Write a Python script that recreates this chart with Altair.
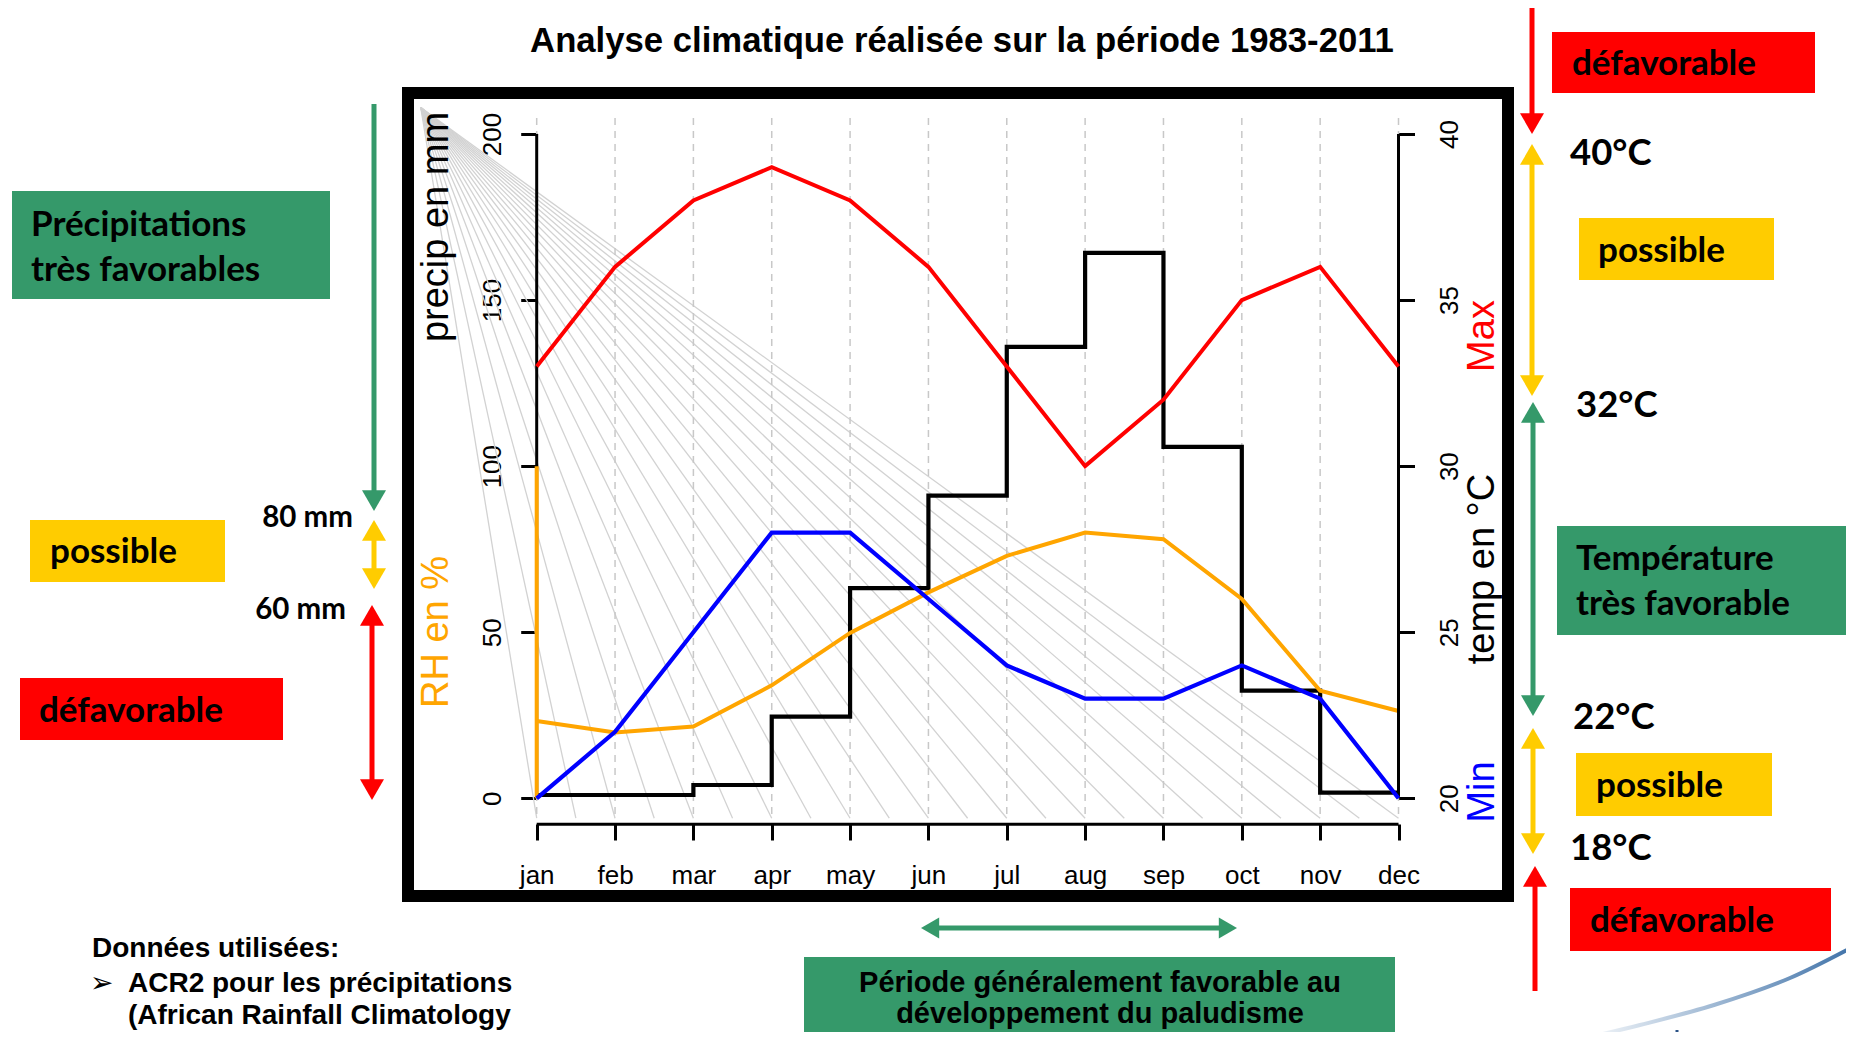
import altair as alt
import pandas as pd

# ------------------------------------------------------------------ data
months = ["jan", "feb", "mar", "apr", "may", "jun", "jul", "aug", "sep", "oct", "nov", "dec"]
precip_mm = [1.0, 1.0, 4.0, 24.6, 63.3, 91.1, 135.9, 164.2, 105.8, 32.4, 1.7, 1.7]
rh_pct = [23.3, 19.8, 21.6, 34.0, 49.8, 62.0, 73.0, 80.0, 78.0, 60.0, 32.4, 26.3]
tmax_c = [33, 36, 38, 39, 38, 36, 33, 30, 32, 35, 36, 33]
tmin_c = [20, 22, 25, 28, 28, 26, 24, 23, 23, 24, 23, 20]
precip_ticks = [0, 50, 100, 150, 200]
temp_ticks = [20, 25, 30, 35, 40]
rh_jan_span = [0, 100]
fan_origin = [-1.48, 208.0]
fan_ends = [0.0, 0.5, 1.0, 1.5, 2.0, 2.5, 3.0, 3.5, 4.0, 4.5, 5.0, 5.5,
            6.0, 6.5, 7.0, 7.5, 8.0, 8.5, 9.0, 9.5, 10.0, 10.5, 11.0]
fan_bottom = -6.0
grid_top = 204.8
grid_bottom = -6.0
month_axis_level = -7.8

# ------------------------------------------------------------------ layout
W, H = 1838, 1024
M = 8
JAN_PX = 536.7 - M
DEC_PX = 1398.5 - M
STEP = (DEC_PX - JAN_PX) / 11
Y0_PX = 798.3 - M
K = (798.3 - 134.0) / 200.0

x_dom = [-JAN_PX / STEP, (W - JAN_PX) / STEP]
y_dom = [-(H - Y0_PX) / K, Y0_PX / K]
t_dom = [20 + y_dom[0] / 10.0, 20 + y_dom[1] / 10.0]

xscale = alt.Scale(domain=x_dom, nice=False, zero=False)
yscale = alt.Scale(domain=y_dom, nice=False, zero=False)
tscale = alt.Scale(domain=t_dom, nice=False, zero=False)

label_expr = "[" + ",".join("'%s'" % m for m in months) + "][datum.value]"

xaxis = alt.Axis(values=list(range(12)), labelExpr=label_expr, orient="bottom",
                 offset=-(H - (824 - M)), domain=False, grid=False,
                 tickSize=16, tickWidth=3, tickColor="black",
                 labelFont="Liberation Sans", labelFontSize=26, labelColor="black",
                 labelPadding=22, labelBaseline="top", labelAlign="center",
                 labelFlush=False, labelOverlap=False, title=None)
yaxis = alt.Axis(values=precip_ticks, orient="left", offset=-JAN_PX, domain=False, grid=False,
                 tickSize=16, tickWidth=3, tickColor="black",
                 labelFont="Liberation Sans", labelFontSize=26, labelColor="black",
                 labelAngle=270, labelAlign="center", labelBaseline="bottom",
                 labelPadding=15, labelFlush=False, labelOverlap=False, title=None)
taxis = alt.Axis(values=temp_ticks, orient="right", offset=-(W - DEC_PX), domain=False, grid=False,
                 tickSize=16, tickWidth=3, tickColor="black",
                 labelFont="Liberation Sans", labelFontSize=26, labelColor="black",
                 labelAngle=270, labelAlign="center", labelBaseline="top",
                 labelPadding=22, labelFlush=False, labelOverlap=False, title=None)


def X(f):
    return alt.X(f, type="quantitative", scale=xscale, axis=xaxis)


def Y(f):
    return alt.Y(f, type="quantitative", scale=yscale, axis=yaxis)


def T(f):
    return alt.Y(f, type="quantitative", scale=tscale, axis=taxis)


df = pd.DataFrame({"i": list(range(12)), "month": months, "precip": precip_mm,
                   "rh": rh_pct, "tmax": tmax_c, "tmin": tmin_c})
fan_df = pd.DataFrame({"x0": [fan_origin[0]] * len(fan_ends), "y0": [fan_origin[1]] * len(fan_ends),
                       "x1": fan_ends, "y1": [fan_bottom] * len(fan_ends)})
grid_df = pd.DataFrame({"i": list(range(12)), "top": [grid_top] * 12, "bot": [grid_bottom] * 12})
laxis_df = pd.DataFrame({"x": [0], "y0": [precip_ticks[0]], "y1": [precip_ticks[-1]]})
baxis_df = pd.DataFrame({"x0": [0], "x1": [11], "y": [month_axis_level]})
rhspan_df = pd.DataFrame({"x": [0], "y0": [rh_jan_span[0]], "y1": [rh_jan_span[1]]})
raxis_df = pd.DataFrame({"x": [11], "y0": [temp_ticks[0]], "y1": [temp_ticks[-1]]})

# decorative swoosh (bottom-right logo fragment), pixel path converted to scale units
sw_px = [(1573, 1041), (1640, 1025), (1714, 1005), (1790, 978), (1862, 942)]
sw_df = pd.DataFrame({"x": [((q[0] - M) - JAN_PX) / STEP for q in sw_px],
                      "y": [(Y0_PX - (q[1] - M)) / K for q in sw_px],
                      "o": list(range(len(sw_px)))})

ORANGE = "#FFA500"

precip_group = alt.layer(
    alt.Chart(fan_df).mark_rule(color="#d2d2d2", strokeWidth=1.3).encode(
        x=X("x0"), y=Y("y0"), x2=alt.X2("x1"), y2=alt.Y2("y1")),
    alt.Chart(grid_df).mark_rule(color="#c8c8c8", strokeWidth=1.5, strokeDash=[7, 6]).encode(
        x=X("i"), y=Y("top"), y2=alt.Y2("bot")),
    alt.Chart(laxis_df).mark_rule(color="black", strokeWidth=3).encode(
        x=X("x"), y=Y("y0"), y2=alt.Y2("y1")),
    alt.Chart(baxis_df).mark_rule(color="black", strokeWidth=3).encode(
        x=X("x0"), x2=alt.X2("x1"), y=Y("y")),
    alt.Chart(df).mark_line(interpolate="step-after", color="black", strokeWidth=4.2).encode(
        x=X("i"), y=Y("precip")),
    alt.Chart(rhspan_df).mark_rule(color=ORANGE, strokeWidth=4).encode(
        x=X("x"), y=Y("y0"), y2=alt.Y2("y1")),
    alt.Chart(df).mark_line(color=ORANGE, strokeWidth=4).encode(x=X("i"), y=Y("rh")),
    alt.Chart(sw_df).mark_line(
        interpolate="monotone", strokeWidth=4,
        color=alt.LinearGradient(gradient="linear",
                                 stops=[alt.GradientStop(color="#ffffff", offset=0),
                                        alt.GradientStop(color="#3a6ea6", offset=1)],
                                 x1=0, x2=1, y1=0, y2=0)).encode(
        x=X("x"), y=Y("y"), order="o"),
)

temp_group = alt.layer(
    alt.Chart(raxis_df).mark_rule(color="black", strokeWidth=3).encode(
        x=X("x"), y=T("y0"), y2=alt.Y2("y1")),
    alt.Chart(df).mark_line(color="#FF0000", strokeWidth=4).encode(x=X("i"), y=T("tmax")),
    alt.Chart(df).mark_line(color="#0000FF", strokeWidth=4.2).encode(x=X("i"), y=T("tmin")),
)

# ------------------------------------------------------------------ annotations
one = pd.DataFrame({"a": [0]})
GREEN = "#35996A"
YELLOW = "#FFCC00"
RED = "#FF0000"
BOX_FS = 35
DEG_FS = 36.5
MM_FS = 29.5


def p(v):
    return v - M


def box(x1, y1, x2, y2, color):
    return alt.Chart(one).mark_rect(color=color).encode(
        x=alt.value(p(x1)), x2=alt.value(p(x2)), y=alt.value(p(y1)), y2=alt.value(p(y2)))


def txt(s, x, y, size, color="black", font="Lato", weight="bold", align="left",
        baseline="middle", angle=0):
    kw = dict(text=s, font=font, fontSize=size, fontWeight=weight, color=color,
              align=align, baseline=baseline)
    if angle:
        kw["angle"] = angle
    return alt.Chart(one).mark_text(**kw).encode(x=alt.value(p(x)), y=alt.value(p(y)))


def head(x, y, shape, color, w):
    return alt.Chart(one).mark_point(shape=shape, filled=True, size=w * w, color=color,
                                     opacity=1, strokeWidth=0).encode(
        x=alt.value(p(x)), y=alt.value(p(y)))


def varrow(x, y1, y2, color, top, bottom, w=5, hw=24):
    h = 0.433 * hw
    out = [alt.Chart(one).mark_rule(color=color, strokeWidth=w).encode(
        x=alt.value(p(x)), y=alt.value(p(y1 + (h if top else 0))),
        y2=alt.value(p(y2 - (h if bottom else 0))))]
    if top:
        out.append(head(x, y1 + h, "triangle-up", color, hw))
    if bottom:
        out.append(head(x, y2 - h, "triangle-down", color, hw))
    return out


def harrow(x1, x2, y, color, w=5, hw=21):
    h = 0.433 * hw
    return [alt.Chart(one).mark_rule(color=color, strokeWidth=w).encode(
                x=alt.value(p(x1 + h)), x2=alt.value(p(x2 - h)), y=alt.value(p(y))),
            head(x1 + h, y, "triangle-left", color, hw),
            head(x2 - h, y, "triangle-right", color, hw)]


ann = []
# frame
ann.append(alt.Chart(one).mark_rect(fillOpacity=0, stroke="black", strokeWidth=12).encode(
    x=alt.value(p(408)), x2=alt.value(p(1508)), y=alt.value(p(93)), y2=alt.value(p(896))))
# axis titles
ann += [
    txt("precip en mm", 448, 227, 38, font="Liberation Sans", weight="normal",
        align="center", baseline="alphabetic", angle=270),
    txt("RH en %", 448, 632, 38, color=ORANGE, font="Liberation Sans", weight="normal",
        align="center", baseline="alphabetic", angle=270),
    txt("Max", 1494, 336, 38, color="#FF0000", font="Liberation Sans", weight="normal",
        align="center", baseline="alphabetic", angle=270),
    txt("temp en °C", 1494, 569, 38, font="Liberation Sans", weight="normal",
        align="center", baseline="alphabetic", angle=270),
    txt("Min", 1494, 792, 38, color="#0000FF", font="Liberation Sans", weight="normal",
        align="center", baseline="alphabetic", angle=270),
]
# title
ann.append(txt("Analyse climatique réalisée sur la période 1983-2011", 962, 42, 34.7,
               font="Liberation Sans", align="center"))

# left side
ann += varrow(374, 104, 511, GREEN, False, True)
ann += varrow(374, 520, 589, YELLOW, True, True)
ann += varrow(372, 605, 800, RED, True, True)
ann += [
    box(12, 191, 330, 299, GREEN),
    txt("Précipitations", 31, 225, BOX_FS),
    txt("très favorables", 31, 270, BOX_FS),
    box(30, 520, 225, 582, YELLOW),
    txt("possible", 50, 552, BOX_FS),
    box(20, 678, 283, 740, RED),
    txt("défavorable", 39, 711, BOX_FS),
    txt("80 mm", 353, 518, MM_FS, align="right"),
    txt("60 mm", 346, 610, MM_FS, align="right"),
]

# right side
ann += varrow(1532, 6, 134, RED, False, True)
ann += varrow(1532, 144, 396, YELLOW, True, True)
ann += varrow(1533, 402, 716, GREEN, True, True)
ann += varrow(1533, 728, 854, YELLOW, True, True)
ann += varrow(1535, 866, 991, RED, True, False)
ann += [
    box(1552, 32, 1815, 93, RED),
    txt("défavorable", 1572, 64, BOX_FS),
    txt("40°C", 1570, 154, DEG_FS),
    box(1579, 218, 1774, 280, YELLOW),
    txt("possible", 1598, 251, BOX_FS),
    txt("32°C", 1576, 406, DEG_FS),
    box(1557, 526, 1860, 635, GREEN),
    txt("Température", 1576, 559, BOX_FS),
    txt("très favorable", 1576, 604, BOX_FS),
    txt("22°C", 1573, 718, DEG_FS),
    box(1576, 753, 1772, 816, YELLOW),
    txt("possible", 1596, 786, BOX_FS),
    txt("18°C", 1570, 849, DEG_FS),
    box(1570, 888, 1831, 951, RED),
    txt("défavorable", 1590, 921, BOX_FS),
]

# bottom
ann += harrow(921, 1237, 928, GREEN)
ann += [
    box(804, 957, 1395, 1050, GREEN),
    txt("Période généralement favorable au", 1100, 983, 29, font="Liberation Sans",
        align="center"),
    txt("développement du paludisme", 1100, 1014, 29, font="Liberation Sans",
        align="center"),
    txt("Données utilisées:", 92, 949, 28, font="Liberation Sans"),
    txt("➢", 90, 984, 28, font="DejaVu Sans", weight="normal"),
    txt("ACR2 pour les précipitations", 128, 984, 28, font="Liberation Sans"),
    txt("(African Rainfall Climatology", 128, 1016, 28, font="Liberation Sans"),
    alt.Chart(one).mark_rule(color="#2a5286", strokeWidth=3).encode(
        x=alt.value(p(1677)), y=alt.value(p(1030)), y2=alt.value(p(1045))),
]

chart = alt.layer(precip_group, temp_group, *ann).resolve_scale(
    y="independent").resolve_axis(y="independent").properties(
    width=W, height=H, padding=0, autosize=alt.AutoSizeParams(type="none")
).configure_view(strokeWidth=0)

chart.save("out.html", embed_options={"renderer": "svg", "actions": False})
